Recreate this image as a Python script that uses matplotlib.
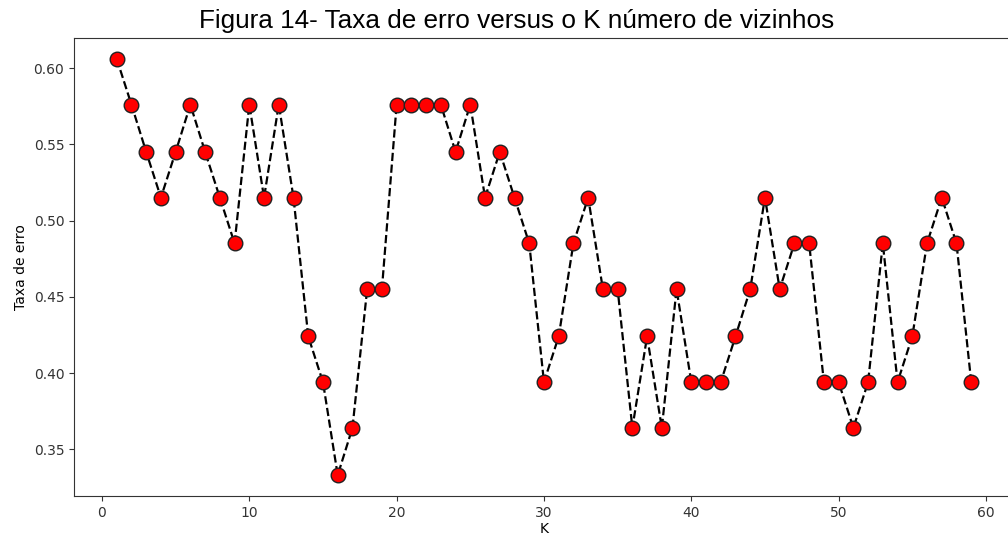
import matplotlib.pyplot as plt
import numpy as np

# error rate for each K (number of neighbours)
k_values = list(range(1, 60))
error_rate = [
    0.606, 0.576, 0.545, 0.515, 0.545, 0.576, 0.545, 0.515, 0.485, 0.576,
    0.515, 0.576, 0.515, 0.424, 0.394, 0.333, 0.364, 0.455, 0.455, 0.576,
    0.576, 0.576, 0.576, 0.545, 0.576, 0.515, 0.545, 0.515, 0.485, 0.394,
    0.424, 0.485, 0.515, 0.455, 0.455, 0.364, 0.424, 0.364, 0.455, 0.394,
    0.394, 0.394, 0.424, 0.455, 0.515, 0.455, 0.485, 0.485, 0.394, 0.394,
    0.364, 0.394, 0.485, 0.394, 0.424, 0.485, 0.515, 0.485, 0.394,
]

fig = plt.figure(figsize=(10.08, 5.35), dpi=100)
ax = fig.add_axes([0.0734, 0.0729, 0.9325, 0.856])
ax.plot(k_values, error_rate, color='black', linestyle='dashed', linewidth=1.6,
        marker='o', markerfacecolor='red', markeredgecolor='#222222',
        markersize=10.5)
ax.set_xlabel('K', fontsize=10, labelpad=2)
ax.set_ylabel('Taxa de erro', fontsize=10)
ax.tick_params(labelsize=10, colors='#333333')
ax.set_xticks(np.arange(0, 61, 10))
for s in ax.spines.values():
    s.set_color('#333333')

fig.text(0.5125, 0.948, 'Figura 14- Taxa de erro versus o K número de vizinhos',
         ha='center', va='baseline', fontsize=18.8, family='Liberation Sans')

plt.savefig('out.png', dpi=100)
